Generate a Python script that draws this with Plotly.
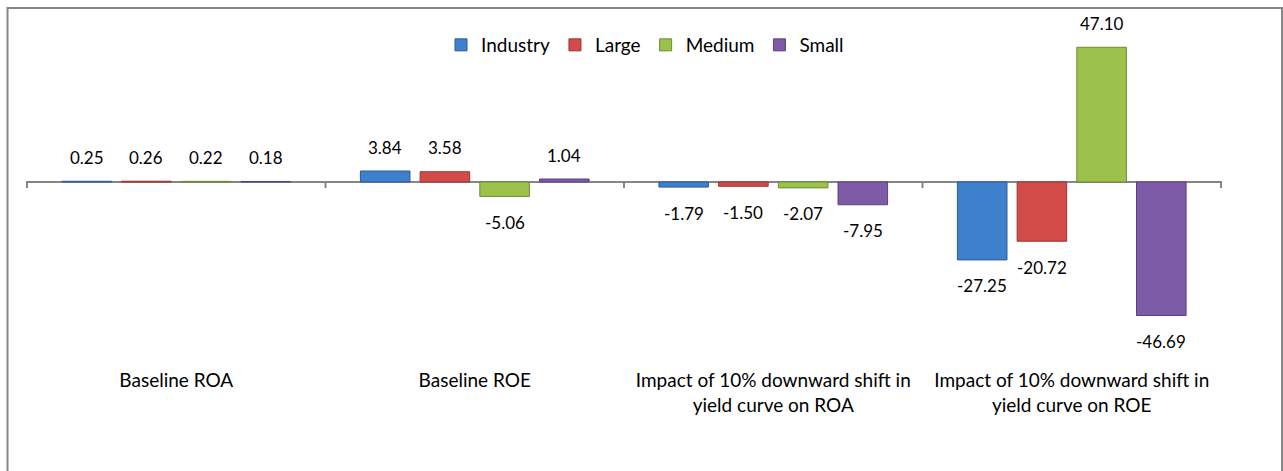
import plotly.graph_objects as go

categories = [
    "Baseline ROA",
    "Baseline ROE",
    "Impact of 10% downward shift in<br>yield curve on ROA",
    "Impact of 10% downward shift in<br>yield curve on ROE",
]
series_names = ["Industry", "Large", "Medium", "Small"]
industry = [0.25, 3.84, -1.79, -27.25]
large = [0.26, 3.58, -1.50, -20.72]
medium = [0.22, -5.06, -2.07, 47.10]
small = [0.18, 1.04, -7.95, -46.69]

fill_colors = ["#3F80CD", "#D24B48", "#9CC24B", "#7D5BA6"]
line_colors = ["#2B5C98", "#9B3431", "#6E8B33", "#5A4180"]

FONT = "Lato"
W, H = 1283, 471
ML, MR, MT, MB = 26, 61, 39, 104
plot_w = W - ML - MR
plot_h = H - MT - MB
Y_RANGE = [-64.7, 50]
BARGAP = 0.2
BARGROUPGAP = 0.17

all_series = [industry, large, medium, small]
n_series = len(all_series)
slot = (1 - BARGAP) / n_series

fig = go.Figure()
for j, (name, vals, fc, lc) in enumerate(zip(series_names, all_series, fill_colors, line_colors)):
    fig.add_trace(go.Bar(
        name=name,
        x=categories,
        y=vals,
        marker=dict(color=fc, line=dict(color=lc, width=1)),
        hoverinfo="skip",
    ))
    # data labels placed at each bar's end through the data scales
    off = -(1 - BARGAP) / 2 + slot * (j + 0.5)
    for i, v in enumerate(vals):
        fig.add_annotation(
            xref="x", yref="y",
            x=i + off, y=v,
            text=f"{v:.2f}",
            showarrow=False,
            xanchor="center", yanchor="middle",
            yshift=24 if v >= 0 else -26,
            font=dict(family=FONT, size=17, color="#000000"),
        )

# category boundary ticks hanging from the zero line
for i in range(len(categories) + 1):
    fig.add_shape(
        type="line", xref="x", yref="y",
        x0=i - 0.5, x1=i - 0.5,
        ysizemode="pixel", yanchor=0, y0=0, y1=-6,
        line=dict(color="#868686", width=2),
    )

# outer chart frame
fig.add_shape(
    type="rect", xref="paper", yref="paper",
    x0=(7.5 - ML) / plot_w, x1=(1282 - ML) / plot_w,
    y0=(H - MB - 480) / plot_h, y1=(H - MB - 8) / plot_h,
    line=dict(color="#868686", width=2),
    fillcolor="rgba(0,0,0,0)",
    layer="below",
)

fig.update_layout(
    width=W, height=H,
    margin=dict(l=ML, r=MR, t=MT, b=MB, pad=0),
    paper_bgcolor="#FFFFFF",
    plot_bgcolor="#FFFFFF",
    barmode="group",
    bargap=BARGAP,
    bargroupgap=BARGROUPGAP,
    font=dict(family=FONT, size=18, color="#000000"),
    showlegend=True,
    legend=dict(
        orientation="h",
        x=(645 - ML) / plot_w, xanchor="center",
        y=(H - MB - 45) / plot_h, yanchor="middle",
        font=dict(family=FONT, size=19, color="#000000"),
        bgcolor="rgba(0,0,0,0)",
        itemwidth=30,
        tracegroupgap=0,
    ),
    xaxis=dict(
        showline=False, ticks="", showgrid=False, zeroline=False,
        tickfont=dict(family=FONT, size=19, color="#000000"),
        fixedrange=True,
    ),
    yaxis=dict(
        range=Y_RANGE, showticklabels=False, showgrid=False, ticks="",
        zeroline=True, zerolinecolor="#868686", zerolinewidth=2,
        showline=False, fixedrange=True,
    ),
)

fig.write_html(
    "out.html",
    config={"displayModeBar": False},
    post_script="document.body.style.margin='0';document.body.style.padding='0';",
)
